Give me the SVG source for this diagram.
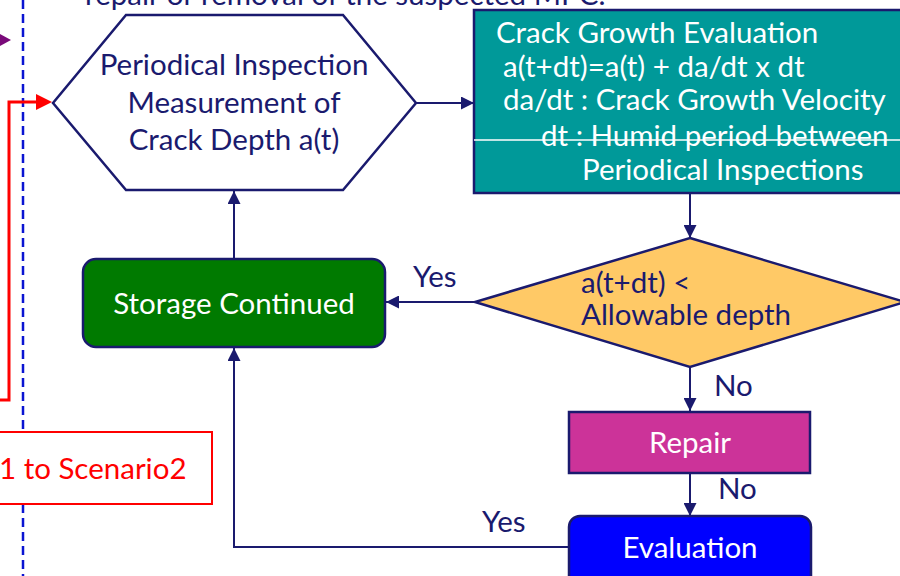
<svg xmlns="http://www.w3.org/2000/svg" width="900" height="576" viewBox="0 0 900 576">
<defs>
<style>
.t{font-family:Lato,"Liberation Sans",sans-serif;font-size:29.5px}
.navy{fill:#1a1a6e}
.w{fill:#ffffff}
.ln{stroke:#1a1a6e;stroke-width:2;fill:none}
.nd{stroke:#1a1a6e;stroke-width:2.5}
</style>
<marker id="ah" viewBox="0 0 10 10" refX="10" refY="5" markerWidth="13" markerHeight="13" markerUnits="userSpaceOnUse" orient="auto">
<path d="M0,0 L10,5 L0,10 z" fill="#1a1a6e"/>
</marker>
</defs>
<rect width="900" height="576" fill="#ffffff"/>
<text class="t navy" x="85" y="5">repair or removal of the suspected MPC.</text>
<line x1="23" y1="0" x2="23" y2="576" stroke="#0a14d2" stroke-width="2.5" stroke-dasharray="9,5"/>
<polygon points="0,34 11,40 0,46" fill="#7a0a7a"/>
<g id="connectors">
<polyline points="0,400 9,400 9,102 37,102" stroke="#ff0000" stroke-width="3" fill="none"/>
<polygon points="36,94 52,102 36,110" fill="#ff0000"/>
<line class="ln" x1="416" y1="103" x2="474" y2="103" marker-end="url(#ah)"/>
<line class="ln" x1="690" y1="193" x2="690" y2="238" marker-end="url(#ah)"/>
<line class="ln" x1="475" y1="302" x2="386" y2="302" marker-end="url(#ah)"/>
<line class="ln" x1="234" y1="258" x2="234" y2="191" marker-end="url(#ah)"/>
<line class="ln" x1="690" y1="367" x2="690" y2="411" marker-end="url(#ah)"/>
<line class="ln" x1="690" y1="473" x2="690" y2="516" marker-end="url(#ah)"/>
<polyline class="ln" points="569,547 234,547 234,348" marker-end="url(#ah)"/>
<text class="t navy" x="413" y="287">Yes</text>
<text class="t navy" x="714" y="396">No</text>
<text class="t navy" x="718" y="499">No</text>
<text class="t navy" x="482" y="532">Yes</text>
</g>
<g id="scenario">
<rect x="-10" y="432" width="222" height="72" fill="#ffffff" stroke="#ff0000" stroke-width="2"/>
<text class="t" x="-1" y="479" fill="#ff0000">1 to Scenario2</text>
</g>
<g id="inspection">
<polygon class="nd" points="126,15 343,15 416,103 343,190 126,190 53,103" fill="#ffffff"/>
<text class="t navy" text-anchor="middle" x="234" y="75">Periodical Inspection</text>
<text class="t navy" text-anchor="middle" x="234" y="113">Measurement of</text>
<text class="t navy" text-anchor="middle" x="234" y="150">Crack Depth a(t)</text>
</g>
<g id="crack-growth">
<rect class="nd" x="474" y="10" width="430" height="183" fill="#009999"/>
<line x1="474" y1="140" x2="900" y2="140" stroke="#ffffff" stroke-width="1.5"/>
<text class="t w" x="496" y="43">Crack Growth Evaluation</text>
<text class="t w" x="503" y="77">a(t+dt)=a(t) + da/dt x dt</text>
<text class="t w" x="503" y="110">da/dt : Crack Growth Velocity</text>
<text class="t w" x="541" y="146">dt : Humid period between</text>
<text class="t w" x="582" y="180">Periodical Inspections</text>
</g>
<g id="decision">
<polygon class="nd" points="690,238 905,302 690,367 475,302" fill="#ffc966"/>
<text class="t navy" x="581" y="293">a(t+dt) &lt;</text>
<text class="t navy" x="581" y="325">Allowable depth</text>
</g>
<g id="storage">
<rect class="nd" x="83" y="259" width="302" height="88" rx="13" fill="#007a00"/>
<text class="t w" text-anchor="middle" x="234" y="314">Storage Continued</text>
</g>
<g id="repair">
<rect class="nd" x="569" y="412" width="241" height="61" fill="#cc3399"/>
<text class="t w" text-anchor="middle" x="690" y="453">Repair</text>
</g>
<g id="evaluation">
<rect class="nd" x="569" y="516" width="242" height="80" rx="11" fill="#0000ff"/>
<text class="t w" text-anchor="middle" x="690" y="558">Evaluation</text>
</g>
</svg>
